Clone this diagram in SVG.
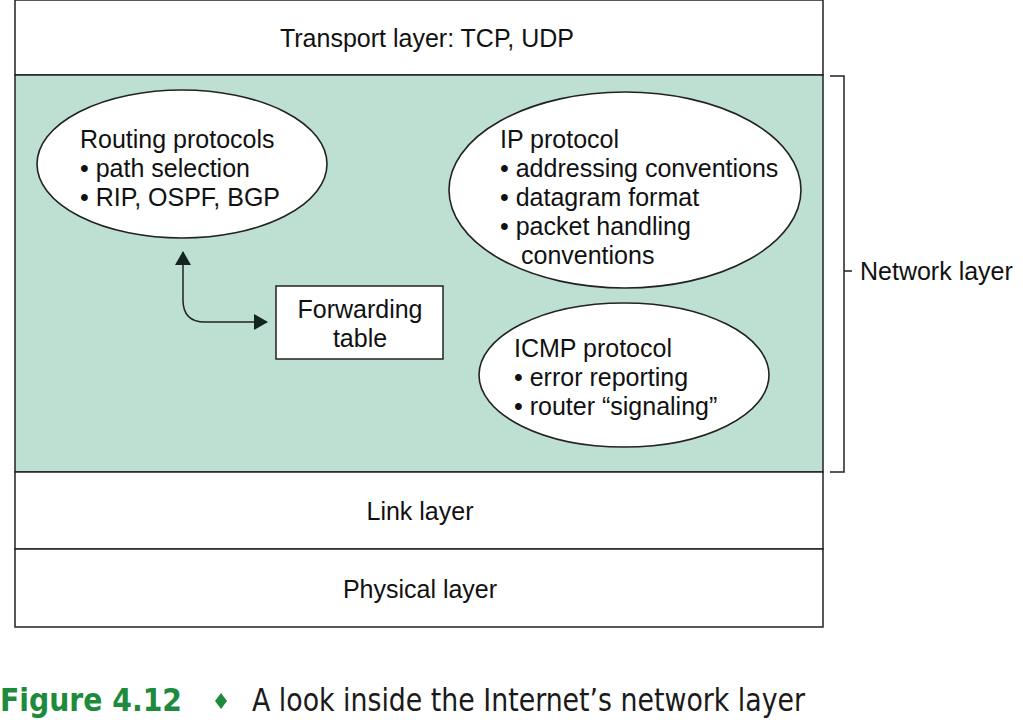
<svg xmlns="http://www.w3.org/2000/svg" width="1023" height="720" viewBox="0 0 1023 720">
<defs>
<style>
.t{font-family:"Liberation Sans",Arial,sans-serif;font-size:25px;fill:#111}
.box{fill:#fff;stroke:#222;stroke-width:1.5}
.ell{fill:#fff;stroke:#222;stroke-width:1.6}
.ln{fill:none;stroke:#222;stroke-width:1.5}
</style>
<marker id="ah" viewBox="0 0 14 16" refX="13" refY="8" markerWidth="14" markerHeight="16" markerUnits="userSpaceOnUse" orient="auto-start-reverse">
<path d="M0,0 L14,8 L0,16 Z" fill="#132520"/>
</marker>
</defs>
<rect width="1023" height="720" fill="#fff"/>
<g id="transport">
<rect class="box" x="15" y="0" width="808" height="75"/>
<text class="t" x="427" y="47" text-anchor="middle">Transport layer: TCP, UDP</text>
</g>
<g id="network">
<rect x="15" y="75" width="808" height="397" fill="#bee0d2" stroke="#222" stroke-width="1.5"/>
</g>
<g id="link">
<rect class="box" x="15" y="472" width="808" height="77"/>
<text class="t" x="420" y="520" text-anchor="middle">Link layer</text>
</g>
<g id="physical">
<rect class="box" x="15" y="549" width="808" height="78"/>
<text class="t" x="420" y="598" text-anchor="middle">Physical layer</text>
</g>
<g id="routing">
<ellipse class="ell" cx="182" cy="164" rx="145" ry="74"/>
<text class="t" x="80" y="148">Routing protocols</text>
<text class="t" x="80" y="177">• path selection</text>
<text class="t" x="80" y="206">• RIP, OSPF, BGP</text>
</g>
<g id="forwarding">
<rect class="box" x="276" y="286" width="167" height="73"/>
<text class="t" x="360" y="318" text-anchor="middle">Forwarding</text>
<text class="t" x="360" y="347" text-anchor="middle">table</text>
</g>
<g id="ip">
<ellipse class="ell" cx="625" cy="190" rx="176" ry="98"/>
<text class="t" x="500" y="148">IP protocol</text>
<text class="t" x="500" y="177">• addressing conventions</text>
<text class="t" x="500" y="206">• datagram format</text>
<text class="t" x="500" y="235">• packet handling</text>
<text class="t" x="521" y="264">conventions</text>
</g>
<g id="icmp">
<ellipse class="ell" cx="624" cy="375" rx="145" ry="72"/>
<text class="t" x="514" y="357">ICMP protocol</text>
<text class="t" x="514" y="386">• error reporting</text>
<text class="t" x="514" y="415">• router “signaling”</text>
</g>
<g id="bracket">
<path class="ln" d="M830,76 H844 V472 H830 M844,271 H852" stroke-width="1.2"/>
<text class="t" x="860" y="280">Network layer</text>
</g>
<g id="connectors">
<path class="ln" d="M183,252 V300 Q183,322 205,322 H267" stroke-width="2" marker-start="url(#ah)" marker-end="url(#ah)"/>
</g>
<g id="caption">
<text x="0" y="711" font-family="'DejaVu Sans Condensed','Liberation Sans Narrow','DejaVu Sans',sans-serif" font-weight="bold" font-size="32" fill="#1e8a3c" textLength="182" lengthAdjust="spacingAndGlyphs">Figure 4.12</text>
<path d="M221,693 L227,701 L221,709 L215,701 Z" fill="#1e8a3c"/>
<text x="252" y="711" font-family="'DejaVu Sans Condensed','Liberation Sans Narrow','DejaVu Sans',sans-serif" font-size="32" fill="#1a1a1a" textLength="553" lengthAdjust="spacingAndGlyphs">A look inside the Internet’s network layer</text>
</g>
</svg>
